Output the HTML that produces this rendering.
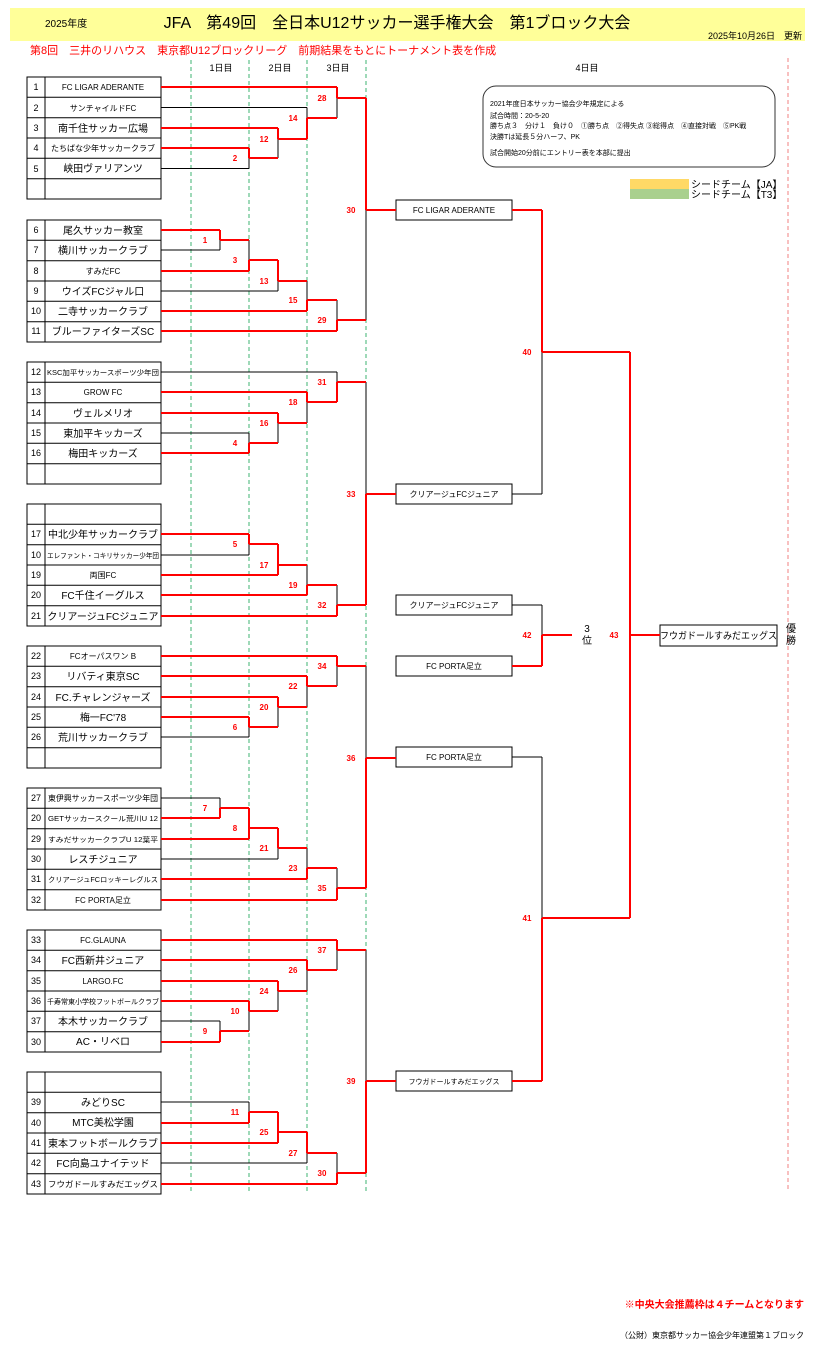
<!DOCTYPE html>
<html><head><meta charset="utf-8"><style>
html,body{margin:0;padding:0;background:#fff;}
svg{display:block;font-family:"Liberation Sans","Noto Sans CJK JP",sans-serif;}
.n{font-size:9px;text-anchor:middle;fill:#000;}
.t{font-size:10px;text-anchor:middle;fill:#000;}
.s{font-size:8px;text-anchor:middle;fill:#000;}
.x{font-size:7px;text-anchor:middle;fill:#000;}
.m{font-size:8px;font-weight:bold;text-anchor:middle;fill:#f00;}
.r{font-size:7px;fill:#000;}
</style></head><body>
<svg width="819" height="1354" viewBox="0 0 819 1354" xmlns="http://www.w3.org/2000/svg">
<rect x="10" y="8" width="795" height="33" fill="#ffff99"/>
<text x="45" y="27" style="font-size:10px">2025年度</text>
<text x="397" y="28" style="font-size:16px;text-anchor:middle">JFA　第49回　全日本U12サッカー選手権大会　第1ブロック大会</text>
<text x="802" y="39" style="font-size:9px;text-anchor:end">2025年10月26日　更新</text>
<text x="30" y="54" style="font-size:11px;fill:#f00">第8回　三井のリハウス　東京都U12ブロックリーグ　前期結果をもとにトーナメント表を作成</text>
<g style="font-size:9px;text-anchor:middle">
<text x="221" y="71">1日目</text><text x="280" y="71">2日目</text><text x="338" y="71">3日目</text><text x="587" y="71">4日目</text></g>
<g stroke="#3cb371" stroke-width="1" stroke-dasharray="4,3">
<path d="M191 60V1192M249 60V1192M307 60V1192M366 60V1192"/></g>
<path d="M788 58V1192" stroke="#f08080" stroke-width="1" stroke-dasharray="4,3"/>
<rect x="483" y="86" width="292" height="81" rx="13" fill="none" stroke="#333" stroke-width="1"/>
<text class="r" x="490" y="106">2021年度日本サッカー協会少年規定による</text>
<text class="r" x="490" y="118">試合時間：20-5-20</text>
<text class="r" x="490" y="128">勝ち点３　分け１　負け０　①勝ち点　②得失点 ③総得点　④直接対戦　⑤PK戦</text>
<text class="r" x="490" y="139">決勝Tは延長５分ハーフ、PK</text>
<text class="r" x="490" y="155">試合開始20分前にエントリー表を本部に提出</text>
<rect x="630" y="179" width="59" height="10" fill="#ffd966"/>
<rect x="630" y="189" width="59" height="10" fill="#a9d08e"/>
<text x="691" y="188" style="font-size:10px">シードチーム【JA】</text>
<text x="691" y="198" style="font-size:10px">シードチーム【T3】</text>

<g fill="none" stroke="#000" stroke-width="1">
<rect x="27" y="77" width="134" height="122"/><rect x="27" y="220" width="134" height="122"/><rect x="27" y="362" width="134" height="122"/><rect x="27" y="504" width="134" height="122"/><rect x="27" y="646" width="134" height="122"/><rect x="27" y="788" width="134" height="122"/><rect x="27" y="930" width="134" height="122"/><rect x="27" y="1072" width="134" height="122"/>
<path d="M45 77V199M27 97.3H161M27 117.7H161M27 138H161M27 158.3H161M27 178.7H161
M45 220V342M27 240.3H161M27 260.7H161M27 281H161M27 301.3H161M27 321.7H161
M45 362V484M27 382.3H161M27 402.7H161M27 423H161M27 443.3H161M27 463.7H161
M45 504V626M27 524.3H161M27 544.7H161M27 565H161M27 585.3H161M27 605.7H161
M45 646V768M27 666.3H161M27 686.7H161M27 707H161M27 727.3H161M27 747.7H161
M45 788V910M27 808.3H161M27 828.7H161M27 849H161M27 869.3H161M27 889.7H161
M45 930V1052M27 950.3H161M27 970.7H161M27 991H161M27 1011.3H161M27 1031.7H161
M45 1072V1194M27 1092.3H161M27 1112.7H161M27 1133H161M27 1153.3H161M27 1173.7H161"/>
<rect x="396" y="200" width="116" height="20"/><rect x="396" y="484" width="116" height="20"/><rect x="396" y="595" width="116" height="20"/><rect x="396" y="656" width="116" height="20"/><rect x="396" y="747" width="116" height="20"/><rect x="396" y="1071" width="116" height="20"/><rect x="660" y="625" width="117" height="21"/>
</g>

<!-- black bracket lines -->
<path fill="none" stroke="#000" stroke-width="1" d="
M161 87H337M161 107.5H307M161 128H278M161 148H249M161 168.5H249
M161 230H220M161 250H220M161 271H249M161 291H278M161 311H307M161 331H337
M161 372H337M161 392H307M161 413H278M161 433H249M161 453H249
M161 534H249M161 555H249M161 575H278M161 595H307M161 616H337
M161 656H337M161 676H307M161 697H278M161 717H249M161 737H249
M161 798H220M161 818H220M161 839H249M161 859H278M161 879H307M161 900H337
M161 940H337M161 960H307M161 981H278M161 1001H249M161 1021H220M161 1042H220
M161 1102H249M161 1123H249M161 1143H278M161 1163H307M161 1184H337
M249 148V168.5M278 128V158M307 107.5V139M337 87V118M366 98V320
M220 230V250M249 240V271M278 260V291M307 281V311M337 300V331
M249 433V453M278 413V443M307 392V423M337 372V402M366 382V605
M249 534V555M278 544V575M307 565V595M337 585V616
M249 717V737M278 697V727M307 676V707M337 656V686M366 666V888
M220 798V818M249 808V839M278 828V859M307 848V879M337 868V900
M220 1021V1042M249 1001V1031M278 981V1011M307 960V991M337 940V970M366 950V1173
M249 1102V1123M278 1112V1143M307 1132V1163M337 1153V1184
M512 494H542M512 757H542M512 605H542M542 210V494M542 757V1081M542 605V666"/>

<!-- red winner lines -->
<path fill="none" stroke="#f00" stroke-width="2" d="
M161 87H337M161 128H278M161 148H249M161 230H220M161 271H249M161 311H307M161 331H337
M161 392H307M161 413H278M161 453H249M161 534H249M161 575H278M161 595H307M161 616H337
M161 656H337M161 676H307M161 697H278M161 717H249M161 818H220M161 839H249M161 879H307M161 900H337
M161 940H337M161 960H307M161 981H278M161 1001H249M161 1042H220M161 1123H249M161 1143H278M161 1184H337
M249 158H278M278 139H307M307 118H337M337 98H366M366 210H396
M220 240H249M249 260H278M278 281H307M307 300H337M337 320H366
M249 443H278M278 423H307M307 402H337M337 382H366M366 494H396
M249 544H278M278 565H307M307 585H337M337 605H366
M249 727H278M278 707H307M307 686H337M337 666H366M366 758H396
M220 808H249M249 828H278M278 848H307M307 868H337M337 888H366
M220 1031H249M249 1011H278M278 991H307M307 970H337M337 950H366M366 1081H396
M249 1112H278M278 1132H307M307 1153H337M337 1173H366
M512 210H542M512 1081H542M512 666H542M542 352H630M542 918H630M542 635H572M630 635H660
M249 148V158M278 128V139M307 139V118M337 87V98M366 98V210
M220 230V240M249 271V260M278 260V281M307 311V300M337 331V320
M249 453V443M278 413V423M307 392V402M337 402V382M366 605V494
M249 534V544M278 575V544M307 595V585M337 616V605
M249 717V727M278 697V707M307 676V686M337 656V666M366 888V758
M220 818V808M249 839V808M278 828V848M307 879V868M337 900V888
M220 1042V1031M249 1001V1011M278 981V991M307 960V970M337 940V950M366 1173V1081
M249 1123V1112M278 1143V1112M307 1132V1153M337 1184V1173
M542 210V352M542 1081V918M542 666V635M630 352V918"/>

<!-- match labels -->
<g class="m">
<text x="235" y="161">2</text><text x="264" y="142">12</text><text x="293" y="121">14</text><text x="322" y="101">28</text><text x="351" y="213">30</text>
<text x="205" y="243">1</text><text x="235" y="263">3</text><text x="264" y="284">13</text><text x="293" y="303">15</text><text x="322" y="323">29</text>
<text x="235" y="446">4</text><text x="264" y="426">16</text><text x="293" y="405">18</text><text x="322" y="385">31</text><text x="351" y="497">33</text>
<text x="235" y="547">5</text><text x="264" y="568">17</text><text x="293" y="588">19</text><text x="322" y="608">32</text>
<text x="235" y="730">6</text><text x="264" y="710">20</text><text x="293" y="689">22</text><text x="322" y="669">34</text><text x="351" y="761">36</text>
<text x="205" y="811">7</text><text x="235" y="831">8</text><text x="264" y="851">21</text><text x="293" y="871">23</text><text x="322" y="891">35</text>
<text x="205" y="1034">9</text><text x="235" y="1014">10</text><text x="264" y="994">24</text><text x="293" y="973">26</text><text x="322" y="953">37</text><text x="351" y="1084">39</text>
<text x="235" y="1115">11</text><text x="264" y="1135">25</text><text x="293" y="1156">27</text><text x="322" y="1176">30</text>
<text x="527" y="355">40</text><text x="527" y="921">41</text><text x="527" y="638">42</text><text x="614" y="638">43</text>
</g>
<text x="587" y="632" style="font-size:10px;text-anchor:middle">3</text>
<text x="587" y="644" style="font-size:10px;text-anchor:middle">位</text>
<text x="791" y="632" style="font-size:10px;text-anchor:middle">優</text>
<text x="791" y="644" style="font-size:10px;text-anchor:middle">勝</text>

<!-- day4 boxes text -->
<text class="s" x="454" y="213">FC LIGAR ADERANTE</text>
<text class="s" x="454" y="497">クリアージュFCジュニア</text>
<text class="s" x="454" y="608">クリアージュFCジュニア</text>
<text class="s" x="454" y="669">FC PORTA足立</text>
<text class="s" x="454" y="760">FC PORTA足立</text>
<text class="x" x="454" y="1084">フウガドールすみだエッグス</text>
<text x="660" y="639" style="font-size:9.5px" textLength="117" lengthAdjust="spacingAndGlyphs">フウガドールすみだエッグス</text>

<!-- numbers -->
<g class="n">
<text x="36" y="90">1</text><text x="36" y="111">2</text><text x="36" y="131">3</text><text x="36" y="151">4</text><text x="36" y="172">5</text>
<text x="36" y="233">6</text><text x="36" y="253">7</text><text x="36" y="274">8</text><text x="36" y="294">9</text><text x="36" y="314">10</text><text x="36" y="334">11</text>
<text x="36" y="375">12</text><text x="36" y="395">13</text><text x="36" y="416">14</text><text x="36" y="436">15</text><text x="36" y="456">16</text>
<text x="36" y="537">17</text><text x="36" y="558">10</text><text x="36" y="578">19</text><text x="36" y="598">20</text><text x="36" y="619">21</text>
<text x="36" y="659">22</text><text x="36" y="679">23</text><text x="36" y="700">24</text><text x="36" y="720">25</text><text x="36" y="740">26</text>
<text x="36" y="801">27</text><text x="36" y="821">20</text><text x="36" y="842">29</text><text x="36" y="862">30</text><text x="36" y="882">31</text><text x="36" y="903">32</text>
<text x="36" y="943">33</text><text x="36" y="963">34</text><text x="36" y="984">35</text><text x="36" y="1004">36</text><text x="36" y="1024">37</text><text x="36" y="1045">30</text>
<text x="36" y="1105">39</text><text x="36" y="1126">40</text><text x="36" y="1146">41</text><text x="36" y="1166">42</text><text x="36" y="1187">43</text>
</g>
<!-- team names -->
<text class="s" x="103" y="90">FC LIGAR ADERANTE</text>
<text class="s" x="103" y="111">サンチャイルドFC</text>
<text class="t" x="103" y="132">南千住サッカー広場</text>
<text class="s" x="103" y="151">たちばな少年サッカークラブ</text>
<text class="t" x="103" y="172">峡田ヴァリアンツ</text>
<text class="t" x="103" y="234">尾久サッカー教室</text>
<text class="t" x="103" y="254">横川サッカークラブ</text>
<text class="s" x="103" y="274">すみだFC</text>
<text class="t" x="103" y="295">ウイズFCジャル口</text>
<text class="t" x="103" y="315">二寺サッカークラブ</text>
<text class="t" x="103" y="335">ブルーファイターズSC</text>
<text class="x" x="103" y="375" textLength="112" lengthAdjust="spacingAndGlyphs">KSC加平サッカースポーツ少年団</text>
<text class="s" x="103" y="395">GROW FC</text>
<text class="t" x="103" y="417">ヴェルメリオ</text>
<text class="t" x="103" y="437">東加平キッカーズ</text>
<text class="t" x="103" y="457">梅田キッカーズ</text>
<text class="t" x="103" y="538">中北少年サッカークラブ</text>
<text class="x" x="103" y="558" textLength="112" lengthAdjust="spacingAndGlyphs">エレファント・コキリサッカー少年団</text>
<text class="s" x="103" y="578">両国FC</text>
<text class="t" x="103" y="599">FC千住イーグルス</text>
<text class="t" x="103" y="620">クリアージュFCジュニア</text>
<text class="s" x="103" y="659">FCオーパスワン B</text>
<text class="t" x="103" y="680">リバティ東京SC</text>
<text class="t" x="103" y="701">FC.チャレンジャーズ</text>
<text class="t" x="103" y="721">梅一FC'78</text>
<text class="t" x="103" y="741">荒川サッカークラブ</text>
<text class="s" x="103" y="801" textLength="110" lengthAdjust="spacingAndGlyphs">東伊興サッカースポーツ少年団</text>
<text class="x" x="103" y="821" textLength="110" lengthAdjust="spacingAndGlyphs">GETサッカースクール荒川U 12</text>
<text class="x" x="103" y="842" textLength="110" lengthAdjust="spacingAndGlyphs">すみだサッカークラブU 12葉平</text>
<text class="t" x="103" y="863">レスチジュニア</text>
<text class="x" x="103" y="882" textLength="110" lengthAdjust="spacingAndGlyphs">クリアージュFCロッキーレグルス</text>
<text class="s" x="103" y="903">FC PORTA足立</text>
<text class="s" x="103" y="943">FC.GLAUNA</text>
<text class="t" x="103" y="964">FC西新井ジュニア</text>
<text class="s" x="103" y="984">LARGO.FC</text>
<text class="x" x="103" y="1004" textLength="112" lengthAdjust="spacingAndGlyphs">千寿常東小学校フットボールクラブ</text>
<text class="t" x="103" y="1025">本木サッカークラブ</text>
<text class="t" x="103" y="1045">AC・リベロ</text>
<text class="t" x="103" y="1106">みどりSC</text>
<text class="t" x="103" y="1126">MTC美松学園</text>
<text class="t" x="103" y="1147">東本フットボールクラブ</text>
<text class="t" x="103" y="1167">FC向島ユナイテッド</text>
<text class="s" x="103" y="1187" textLength="110" lengthAdjust="spacingAndGlyphs">フウガドールすみだエッグス</text>

<text x="804" y="1308" style="font-size:10px;font-weight:bold;fill:#f00;text-anchor:end">※中央大会推薦枠は４チームとなります</text>
<text x="804" y="1338" style="font-size:8px;text-anchor:end">（公財）東京都サッカー協会少年連盟第１ブロック</text>
</svg>
</body></html>
